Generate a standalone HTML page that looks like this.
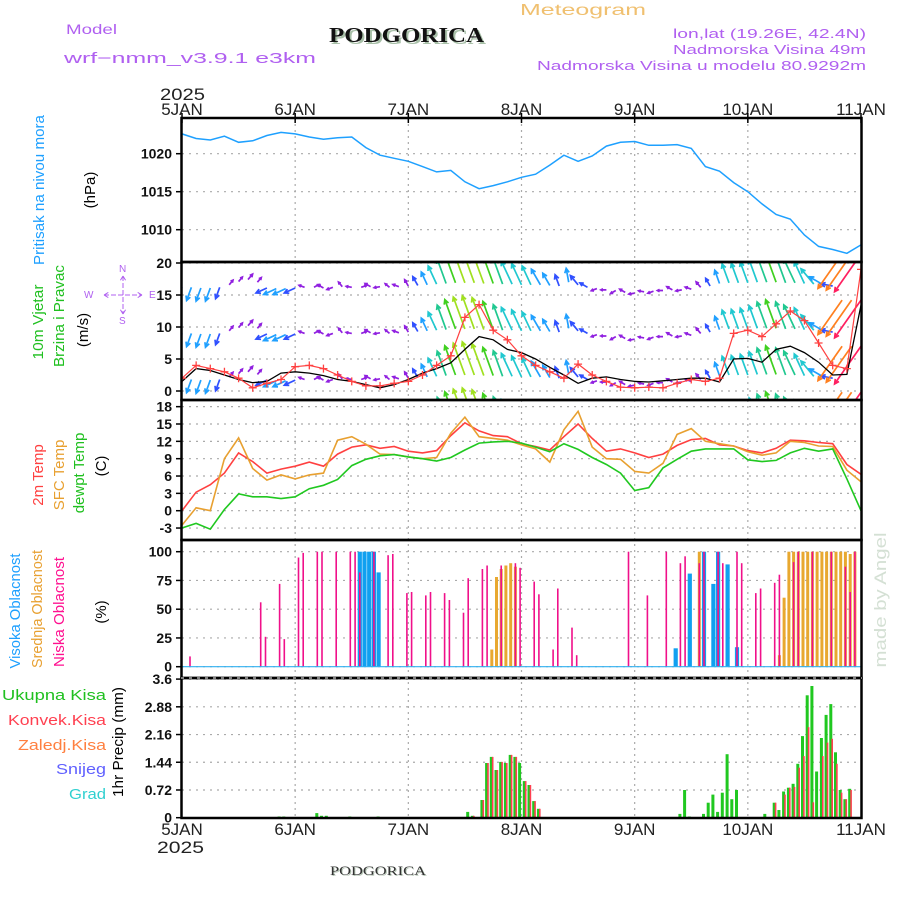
<!DOCTYPE html>
<html><head><meta charset="utf-8">
<style>
html,body{margin:0;padding:0;background:#fff;}
svg{display:block;font-family:"Liberation Sans",sans-serif;}
</style></head>
<body>
<svg id="chart" width="900" height="900" viewBox="0 0 900 900" xmlns="http://www.w3.org/2000/svg">
<defs>
 <clipPath id="cP"><rect x="182" y="118" width="680" height="144"/></clipPath>
 <clipPath id="cW"><rect x="182" y="262" width="680" height="138"/></clipPath>
 <clipPath id="cT"><rect x="182" y="400" width="680" height="140"/></clipPath>
 <clipPath id="cC"><rect x="182" y="540" width="680" height="138"/></clipPath>
 <clipPath id="cR"><rect x="182" y="678" width="680" height="140"/></clipPath>
</defs>
<!-- header -->
<text x="66" y="34" font-size="14" fill="#b060f0" textLength="51" lengthAdjust="spacingAndGlyphs">Model</text>
<text x="64" y="63" font-size="15" fill="#b060f0" textLength="252" lengthAdjust="spacingAndGlyphs">wrf−nmm_v3.9.1  e3km</text>
<text x="331" y="44" font-size="21" font-weight="bold" font-family="Liberation Serif,serif" fill="#a8c0a8" textLength="155" lengthAdjust="spacingAndGlyphs">PODGORICA</text>
<text x="329" y="42" font-size="21" font-weight="bold" font-family="Liberation Serif,serif" fill="#111" textLength="155" lengthAdjust="spacingAndGlyphs">PODGORICA</text>
<text x="520" y="15" font-size="16" fill="#f0c070" textLength="126" lengthAdjust="spacingAndGlyphs">Meteogram</text>
<text x="866" y="38" font-size="13" fill="#b060f0" text-anchor="end" textLength="193" lengthAdjust="spacingAndGlyphs">lon,lat (19.26E, 42.4N)</text>
<text x="866" y="54" font-size="13" fill="#b060f0" text-anchor="end" textLength="193" lengthAdjust="spacingAndGlyphs">Nadmorska Visina 49m</text>
<text x="866" y="70" font-size="13" fill="#b060f0" text-anchor="end" textLength="329" lengthAdjust="spacingAndGlyphs">Nadmorska Visina u modelu 80.9292m</text>
<text x="160" y="100" font-size="17" fill="#222" textLength="45" lengthAdjust="spacingAndGlyphs">2025</text>
<text x="157" y="853" font-size="17" fill="#222" textLength="47" lengthAdjust="spacingAndGlyphs">2025</text>
<text x="331" y="876" font-size="13" font-family="Liberation Serif,serif" fill="#b8c8b8" textLength="96" lengthAdjust="spacingAndGlyphs">PODGORICA</text>
<text x="330" y="875" font-size="13" font-family="Liberation Serif,serif" fill="#333" textLength="96" lengthAdjust="spacingAndGlyphs">PODGORICA</text>
<text transform="translate(886,600) rotate(-90)" font-size="17" fill="#d4e0d4" text-anchor="middle" textLength="135" lengthAdjust="spacingAndGlyphs">made by Angel</text>

<!-- y axis titles -->
<text transform="translate(44,190) rotate(-90)" font-size="15" fill="#1ea0ff" text-anchor="middle" textLength="150" lengthAdjust="spacingAndGlyphs">Pritisak na nivou mora</text>
<text transform="translate(95,190) rotate(-90)" font-size="15" fill="#000" text-anchor="middle">(hPa)</text>
<text transform="translate(43,322) rotate(-90)" font-size="15" fill="#20c020" text-anchor="middle" textLength="75" lengthAdjust="spacingAndGlyphs">10m Vjetar</text>
<text transform="translate(64,316) rotate(-90)" font-size="15" fill="#20c020" text-anchor="middle" textLength="102" lengthAdjust="spacingAndGlyphs">Brzina i Pravac</text>
<text transform="translate(88,330) rotate(-90)" font-size="15" fill="#000" text-anchor="middle">(m/s)</text>
<g fill="#b060f0" stroke="#b060f0">
 <text x="84" y="298" font-size="10" stroke="none">W</text>
 <text x="149" y="298" font-size="10" stroke="none">E</text>
 <text x="119" y="272" font-size="10" stroke="none">N</text>
 <text x="119" y="324" font-size="10" stroke="none">S</text>
 <path d="M104,295h38M104,295l5,-3M104,295l5,3M142,295l-5,-3M142,295l-5,3M123,276v38M123,276l-3,5M123,276l3,5M123,314l-3,-5M123,314l3,-5" fill="none" stroke-width="1" stroke-dasharray="5,2"/>
</g>
<text transform="translate(43,475) rotate(-90)" font-size="15" fill="#ff4040" text-anchor="middle">2m Temp</text>
<text transform="translate(64,475) rotate(-90)" font-size="15" fill="#e8a030" text-anchor="middle">SFC Temp</text>
<text transform="translate(84,473) rotate(-90)" font-size="15" fill="#20c020" text-anchor="middle">dewpt Temp</text>
<text transform="translate(106,466) rotate(-90)" font-size="15" fill="#000" text-anchor="middle">(C)</text>
<text transform="translate(20,611) rotate(-90)" font-size="15" fill="#1ea0ff" text-anchor="middle" textLength="115" lengthAdjust="spacingAndGlyphs">Visoka Oblacnost</text>
<text transform="translate(42,609) rotate(-90)" font-size="15" fill="#e8a030" text-anchor="middle" textLength="118" lengthAdjust="spacingAndGlyphs">Srednja Oblacnost</text>
<text transform="translate(64,612) rotate(-90)" font-size="15" fill="#ff1090" text-anchor="middle" textLength="110" lengthAdjust="spacingAndGlyphs">Niska Oblacnost</text>
<text transform="translate(106,612) rotate(-90)" font-size="15" fill="#000" text-anchor="middle">(%)</text>
<g font-size="15" text-anchor="end">
 <text x="106" y="700" fill="#20c020" textLength="104" lengthAdjust="spacingAndGlyphs">Ukupna Kisa</text>
 <text x="106" y="725" fill="#ff4050" textLength="98" lengthAdjust="spacingAndGlyphs">Konvek.Kisa</text>
 <text x="106" y="750" fill="#ff8040" textLength="88" lengthAdjust="spacingAndGlyphs">Zaledj.Kisa</text>
 <text x="106" y="774" fill="#6060ff" textLength="50" lengthAdjust="spacingAndGlyphs">Snijeg</text>
 <text x="106" y="799" fill="#30d0d0" textLength="37" lengthAdjust="spacingAndGlyphs">Grad</text>
</g>
<text transform="translate(123,742) rotate(-90)" font-size="15" fill="#000" text-anchor="middle" textLength="110" lengthAdjust="spacingAndGlyphs">1hr Precip (mm)</text>

<g id="grid"></g>
<g id="marks"></g>
<g id="frames"></g>
</svg>
<script>
// ---------------- DATA ----------------
const dayLabels = ["5JAN","6JAN","7JAN","8JAN","9JAN","10JAN","11JAN"];
const hours3 = [0,3,6,9,12,15,18,21,24,27,30,33,36,39,42,45,48,51,54,57,60,63,66,69,72,75,78,81,84,87,90,93,96,99,102,105,108,111,114,117,120,123,126,129,132,135,138,141,144];
const pressure = [1022.6,1022.0,1021.8,1022.3,1021.5,1021.7,1022.4,1022.8,1022.6,1022.2,1021.9,1022.1,1022.2,1020.8,1019.8,1019.4,1019.0,1018.3,1017.6,1017.8,1016.3,1015.4,1015.8,1016.3,1016.9,1017.3,1018.5,1019.8,1019.0,1019.7,1021.0,1021.5,1021.6,1021.1,1021.1,1021.2,1020.7,1018.3,1017.7,1016.2,1015.0,1013.4,1012.0,1011.4,1009.3,1007.8,1007.4,1006.9,1008.0];
const pressureTicks = [1010,1015,1020];
const temp2m = [0,3.2,4.5,6.5,10.0,8.5,6.5,7.2,7.7,8.4,7.7,9.8,11.0,11.4,10.8,11.1,10.3,10.0,10.4,13.0,15.2,13.8,13.0,12.8,11.6,11.1,10.5,12.8,15.0,12.5,10.3,10.7,10.0,9.2,9.8,11.3,12.3,12.5,11.4,11.2,10.4,10.0,10.8,12.2,12.1,11.8,11.6,8.0,6.3];
const tempSfc = [-2.5,0.5,0,9.0,12.6,7.3,5.3,6.2,5.5,6.2,6.5,12.2,12.8,11.5,9.8,9.7,9.3,9.0,9.2,13.4,16.2,12.8,12.5,12.2,11.4,10.7,8.4,14.0,17.2,11.0,9.0,8.9,6.8,6.5,8.2,13.2,14.2,12.0,11.6,11.2,10.2,9.6,10.0,12.0,11.8,11.2,11.1,7.0,5.0];
const dewpt = [-3.0,-2.2,-3.2,0.2,2.9,2.4,2.4,2.1,2.4,3.8,4.4,5.4,7.8,8.9,9.5,9.7,9.3,9.0,8.6,9.2,10.5,11.7,11.9,12.0,11.7,11.0,10.2,11.6,10.6,9.2,8.0,6.5,3.5,4.0,7.4,8.9,10.3,10.7,10.7,10.7,8.8,8.5,8.7,10.0,10.8,10.3,10.7,5.5,0];
const tempTicks = [-3,0,3,6,9,12,15,18];
const windSpeed10m = [1.5,3.5,3.2,2.5,1.8,1.3,1.5,2.8,3.0,2.8,2.4,1.8,1.5,1.0,0.5,1.0,1.8,2.8,3.5,4.4,6.5,8.5,8.0,6.5,6.0,5.0,3.7,2.5,1.2,2.0,2.2,1.8,1.5,1.4,1.6,1.8,2.0,2.0,1.4,5.0,5.1,4.5,6.5,7.0,6.0,4.5,2.5,2.6,13.4];
const windGust = [2,4,3.5,3,2,0.5,1.2,1.8,3.8,4,3.5,2.5,1.5,0.8,0.8,1.2,1.5,2.5,4,5.5,11.5,13.5,9.5,8,5.5,4,3,2,4.2,2.5,1.5,0.6,0.5,0.6,0.5,1.2,1.8,1.5,2,9,9.5,8.5,10.5,12.5,11,7.5,4,3.5,19];
const windTicks = [0,5,10,15,20];
// wind arrows, every 2 hours (h = 0,2,...,144)
const windSpd = [3,3.5,3.5,3.5,3, 1.5,1.5,1.8,1.5, 3,3.5,3.5,3,
 1.5,1.4,1.5,1.6,1.5,1.4,1.5,1.6,1.5,1.4,1.6,1.8,
 2.5,3.5,5,6.5,7.8,8.5,8.8,8.5,7.5,6.8,6.3,5.8,5.2,4.5,3.5,3,3.5,3,2.2,
 1.5,1.4,1.5,1.6,1.5,1.4,1.5,1.4,1.6,1.5,1.6,1.8,
 2.2,3.5,5,5.2,5.5,6,7,7.6,7.2,6.6,6,5,4,3, 10.5,11,11.5];
const windDir = [200,200,200,200,200, 40,40,40,40, 245,245,245,245,
 290,60,300,250,320,280,70,300,260,310,290,330,
 330,335,335,340,340,340,340,340,340,340,335,335,335,330,330,340,350,320,300,
 250,270,240,300,260,280,250,270,300,260,290,320,
 330,340,340,340,340,340,340,340,340,335,335,320,300,280, 215,215,215];
const windBase = [1.8,1.8,1.7,1.7,1.8, 2.2,2.7,3.0,2.6, 1.7,1.6,1.6,1.7,
 1.8,1.8,1.7,1.8,1.9,1.8,1.8,1.9,1.9,1.8,1.9,2.0,
 2.1,2.2,2.3,2.4,2.5,2.5,2.5,2.4,2.4,2.3,2.3,2.2,2.2,2.2,2.1,2.0,2.6,2.2,1.8,
 1.6,1.4,1.3,1.0,0.9,1.1,1.2,1.3,1.4,1.4,1.5,1.8,
 2.0,2.4,2.5,2.5,2.5,2.6,2.6,2.6,2.5,2.5,2.4,2.3,2.2,2.0, 7,7,7];
const windRowOffsets = [-7.2,0,7.2,14.4];
// cloud cover (hourly, sparse)
const lowCloudHours = [1,16,17,20,21,24,25,28,29,32,35,36,37,40,43,44,47,48,51,52,55,56,59,60,63,64,67,70,71,74,75,78,79,82,83,94,98,102,105,106,109,110,113,114,117,118,121,122,125,126,129,130,133,137,140,141,142];
const lowCloudVals  = [9,56,26,72,24,95,99,100,100,100,100,100,82,100,97,98,64,65,62,65,64,58,47,77,85,88,88,90,86,74,63,15,68,34,10,100,62,100,90,96,90,100,100,90,100,90,64,68,73,80,91,100,100,100,87,65,100];
const midCloudHours = [65,66,67,68,69,70,109,126,127,128,129,130,131,132,133,134,135,136,137,138,139,140,141,142];
const midCloudVals  = [15,78,85,88,90,87,100,10,60,100,100,100,100,100,100,100,100,100,100,100,100,100,98,100];
const highCloudHours = [37,38,39,40,41,104,107,110,112,113,115,117];
const highCloudVals  = [100,100,100,100,82,16,81,100,72,100,89,17];
const cloudTicks = [0,25,50,75,100];
// precipitation (hourly, sparse)
const rainHours = [20,21,28,29,30,35,41,60,61,63,64,65,66,67,68,69,70,71,72,73,74,75,105,106,107,110,111,112,113,114,115,116,117,123,125,126,127,128,129,130,131,132,133,134,135,136,137,138,139,140,141];
const rainTotal = [0.03,0.03,0.12,0.05,0.05,0.03,0.03,0.15,0.05,0.46,1.42,1.58,1.24,1.45,1.42,1.63,1.58,1.42,0.95,0.85,0.43,0.23,0.1,0.72,0.03,0.1,0.39,0.6,0.15,0.65,1.65,0.48,0.72,0.1,0.39,0.2,0.68,0.78,0.88,1.4,2.12,3.18,3.42,1.2,2.07,2.67,2.95,1.7,0.72,0.48,0.75];
const rainConv  = [0,0,0,0,0,0,0,0,0.05,0.46,1.42,1.58,1.24,1.45,1.42,1.63,1.58,0,0.95,0.85,0.43,0.23,0,0,0,0,0,0,0,0,0,0,0,0,0.39,0,0.6,0.78,0.8,1.3,1.6,2.35,0.4,0,1.6,1.95,2.05,1.4,0.65,0.48,0.72];
const precipTicks = [0,0.72,1.44,2.16,2.88,3.6];

// ---------------- AXES ----------------
const NS = "http://www.w3.org/2000/svg";
const X0 = 182, X1 = 861, HMAX = 144;
function xH(h){ return X0 + h*(X1-X0)/HMAX; }
function yP(p){ return 153.7 + (1020-p)*7.6; }
function yW(v){ return 391 - v*6.4; }
function yT(t){ return 510.7 - t*5.78; }
function yC(c){ return 666.7 - c*1.15; }
function yR(r){ return 817.7 - r*38.5; }
const panels = [[118,262],[262,400],[400,540],[540,678],[678,818]];

function mk(tag, attrs, parent){
  const e = document.createElementNS(NS, tag);
  for (const k in attrs) e.setAttribute(k, attrs[k]);
  parent.appendChild(e);
  return e;
}
const grid = document.getElementById('grid');
const marks = document.getElementById('marks');
const frames = document.getElementById('frames');

dayLabels.forEach((d,i)=>{
  const x = xH(i*24);
  if (i>0 && i<6) {
    const ln = mk('line',{x1:x,y1:118,x2:x,y2:818,stroke:'#aaa','stroke-width':1.2,'stroke-dasharray':'2,4'},grid);
    
    
  }
  const t1 = mk('text',{x:x,y:115,'font-size':17,fill:'#222','text-anchor':'middle'},grid);
  t1.textContent = d;
  
  
  const t2 = mk('text',{x:x,y:835,'font-size':17,fill:'#222','text-anchor':'middle'},grid);
  t2.textContent = d;
  
  
  const tk = mk('line',{x1:x,y1:113,x2:x,y2:123,stroke:'#000','stroke-width':1.5},grid);
  
  
});

function hTicks(ticks, yf){
  ticks.forEach(v=>{
    const y = yf(v);
    const gl = mk('line',{x1:182,y1:y,x2:861,y2:y,stroke:'#aaa','stroke-width':1.2,'stroke-dasharray':'2,5'},grid);
    
    
    mk('line',{x1:176,y1:y,x2:182,y2:y,stroke:'#000','stroke-width':1.5},grid);
    const t = mk('text',{x:172,y:y+5,'font-size':14,'font-weight':'bold',fill:'#111','text-anchor':'end'},grid);
    t.textContent = String(v);
    
    
  });
}
hTicks(pressureTicks, yP);
hTicks(windTicks, yW);
hTicks(tempTicks, yT);
hTicks(cloudTicks, yC);
hTicks(precipTicks, yR);

function poly(xs, ys, yf, color, clip, name, w){
  const pts = xs.map((h,i)=> xH(h).toFixed(1)+','+yf(ys[i]).toFixed(1)).join(' ');
  const p = mk('polyline',{points:pts,fill:'none',stroke:color,'stroke-width':w||1.5,'clip-path':'url(#'+clip+')'},marks);
  
  
  return p;
}

poly(hours3, pressure, yP, '#1ea0ff', 'cP', 'pressure-line', 1.5);

function windColor(s){
  if (s<2) return '#9020e0';
  if (s<3.5) return '#3050ff';
  if (s<5) return '#20a0ff';
  if (s<6.5) return '#20c8d0';
  if (s<7.5) return '#20c890';
  if (s<8.5) return '#40d020';
  if (s<9.5) return '#a0e020';
  if (s<10.5) return '#f0c020';
  if (s<11.5) return '#ff8020';
  return '#ff2060';
}
const wg = mk('g',{'clip-path':'url(#cW)'},marks);


windSpd.forEach((s,i)=>{
  const h = i*2;
  const ang = windDir[i]*Math.PI/180;
  const L = s*4;
  const dx = Math.sin(ang)*L, dy = -Math.cos(ang)*L;
  const col = windColor(s);
  windRowOffsets.forEach(off=>{
    const x = xH(h), y = yW(windBase[i]+off);
    const tx = x+dx, ty = y+dy;
    const a1 = ang + Math.PI*0.85, a2 = ang - Math.PI*0.85;
    const hl = Math.min(5, L*0.45);
    const d = 'M'+x.toFixed(1)+','+y.toFixed(1)+'L'+tx.toFixed(1)+','+ty.toFixed(1)+
      'M'+(tx+Math.sin(a1)*hl).toFixed(1)+','+(ty-Math.cos(a1)*hl).toFixed(1)+'L'+tx.toFixed(1)+','+ty.toFixed(1)+
      'L'+(tx+Math.sin(a2)*hl).toFixed(1)+','+(ty-Math.cos(a2)*hl).toFixed(1);
    const p = mk('path',{d:d,stroke:col,'stroke-width':1.7,fill:'none'},wg);
    
    
  });
});
poly(hours3, windSpeed10m, yW, '#000', 'cW', 'wind-speed-line', 1.3);
poly(hours3, windGust, yW, '#ff4040', 'cW', 'wind-gust-line', 1.2);
const gg = mk('g',{'clip-path':'url(#cW)'},marks);


hours3.forEach((h,i)=>{
  const x = xH(h), y = yW(windGust[i]);
  const c = mk('path',{d:'M'+(x-4)+','+y+'h8M'+x+','+(y-4)+'v8',stroke:'#ff4040','stroke-width':1.3},gg);
  
  
});

poly(hours3, temp2m, yT, '#ff4040', 'cT', 'temp-2m-line', 1.6);
poly(hours3, tempSfc, yT, '#e8a030', 'cT', 'temp-sfc-line', 1.6);
poly(hours3, dewpt, yT, '#20c820', 'cT', 'dewpoint-line', 1.6);

function bars(hs, vals, yf, base, color, w, off, clip, name){
  const g = mk('g',{'clip-path':'url(#'+clip+')'},marks);
  
  
  hs.forEach((h,i)=>{
    const y = yf(vals[i]);
    const r = mk('rect',{x:(xH(h+0.7)+off-w/2).toFixed(1),y:y.toFixed(1),width:w,height:Math.max(0,yf(base)-y).toFixed(1),fill:color},g);
    
    
  });
}
bars(highCloudHours, highCloudVals, yC, 0, '#10a0f0', 4.2, 0, 'cC', 'high-cloud-bar');
bars(midCloudHours, midCloudVals, yC, 0, '#e8a830', 3, 0, 'cC', 'mid-cloud-bar');
bars(lowCloudHours, lowCloudVals, yC, 0, '#f0108a', 1.6, 0, 'cC', 'low-cloud-bar');
const zl = mk('line',{x1:182,y1:yC(0),x2:861,y2:yC(0),stroke:'#30b0f0','stroke-width':1.2},marks);



bars(rainHours, rainTotal, yR, 0, '#20c820', 3, -0.5, 'cR', 'total-rain-bar');
bars(rainHours, rainConv, yR, 0, '#ff4050', 1.6, 0.9, 'cR', 'convective-rain-bar');

panels.forEach((p,i)=>{
  const r = mk('rect',{x:181.5,y:p[0],width:680,height:p[1]-p[0],fill:'none',stroke:'#000','stroke-width':2.5},frames);
  
  
});
const dash = mk('line',{x1:181,y1:678,x2:862,y2:678,stroke:'#fff','stroke-width':1,'stroke-dasharray':'3,5'},frames);


</script>
</body></html>
